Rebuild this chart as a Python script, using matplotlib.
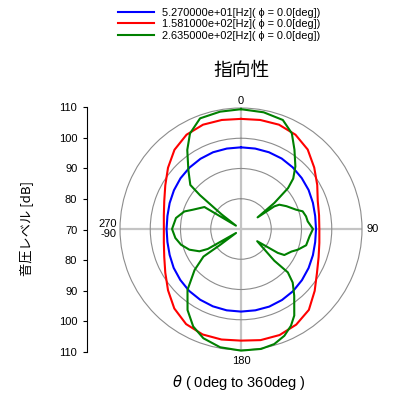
import numpy as np
import matplotlib
matplotlib.use("Agg")
import matplotlib.pyplot as plt

plt.rcParams["font.family"] = ["Liberation Sans", "Noto Sans CJK JP", "DejaVu Sans"]
plt.rcParams["mathtext.fontset"] = "dejavusans"

# directivity data (angle in deg, level in dB)
labels = ["5.270000e+01[Hz]( \u03d5 = 0.0[deg])",
          "1.581000e+02[Hz]( \u03d5 = 0.0[deg])",
          "2.635000e+02[Hz]( \u03d5 = 0.0[deg])"]
colors = ["#0000ff", "#ff0000", "#008000"]

ang_10 = list(range(0, 370, 10))
lvl_52 = [97.0, 97.0, 97.0, 96.9, 96.6, 96.2, 95.8, 95.3, 94.9, 94.8,
          94.9, 95.3, 95.8, 96.3, 96.8, 97.1, 97.3, 97.3, 97.3, 97.3,
          97.2, 97.0, 96.7, 96.2, 95.7, 95.1, 94.7, 94.6, 94.7, 95.1,
          95.6, 96.1, 96.5, 96.8, 97.0, 97.0, 97.0]
lvl_158 = [106.4, 106.6, 106.7, 106.0, 104.3, 101.6, 99.1, 97.0, 96.2, 95.9,
           96.3, 97.3, 99.0, 101.8, 104.9, 106.5, 107.3, 107.3, 106.9, 107.1,
           107.1, 106.3, 104.3, 101.5, 98.9, 97.0, 95.9, 95.5, 95.9, 97.0,
           98.9, 101.5, 104.2, 106.0, 106.7, 106.6, 106.4]

ang_264 = [0, 11, 21, 28, 34, 41, 46, 49, 52, 55,
           55.8, 57.6, 63.3, 70.7, 74, 79, 83.5, 90, 96, 104,
           110, 114, 121, 123, 127, 133.6, 132.8, 136, 141.4, 148.4,
           152.7, 157.9, 163.9, 170.5, 180, 190, 199, 206.1, 213.4, 221.3,
           228.5, 233.7, 232.7, 231.3, 239, 241.8, 248.2, 255.3, 262.2, 270,
           279.6, 287.2, 291.7, 301, 303.4, 307, 309.5, 311, 318.2, 325.8,
           331.9, 339.7, 349.9, 360]
lvl_264 = [109.6, 109.3, 108.6, 105.8, 101.6, 97.4, 94.0, 90.6, 84.0, 76.7,
           83.3, 85.0, 86.8, 89.3, 91.2, 91.9, 92.2, 93.8, 92.8, 92.2,
           90.0, 88.3, 86.7, 84.5, 76.7, 85.2, 91.1, 94.6, 98.2, 103.6,
           106.0, 108.1, 109.6, 110.2, 110.2, 109.7, 108.2, 105.9, 102.1, 96.8,
           90.5, 85.4, 78.7, 72.1, 82.8, 85.6, 88.4, 90.5, 91.9, 92.8,
           91.8, 89.6, 87.2, 84.1, 72.0, 78.0, 87.6, 92.2, 96.1, 101.6,
           105.8, 109.0, 109.4, 109.6]

series = [(ang_10, lvl_52), (ang_10, lvl_158), (ang_264, lvl_264)]

fig = plt.figure(figsize=(3.95, 4.0), dpi=100)

# polar plot
ax = fig.add_axes([120/395, 50/400, 242/395, 242/400], projection="polar")
ax.set_theta_zero_location("N")
ax.set_theta_direction(-1)
handles = []
for (a, v), c in zip(series, colors):
    ln, = ax.plot(np.deg2rad(a), v, color=c, lw=1.5, clip_on=False, zorder=3)
    handles.append(ln)
ax.set_ylim(70, 110)
ax.set_rgrids([80, 90, 100], labels=[])
ax.set_thetagrids([0, 90, 180, 270], labels=[])
ax.yaxis.grid(True, color="#8c8c8c", lw=0.8)
ax.xaxis.grid(True, color="#c4c4c4", lw=1.6)
ax.spines["polar"].set_color("#8c8c8c")
ax.spines["polar"].set_linewidth(0.8)

ax.annotate("0", (0, 110), xytext=(0, 1.5), textcoords="offset points",
            ha="center", va="bottom", fontsize=8)
ax.annotate("180", (np.pi, 110), xytext=(0, -4), textcoords="offset points",
            ha="center", va="top", fontsize=8)
ax.annotate("90", (np.pi/2, 110), xytext=(3.5, 0), textcoords="offset points",
            ha="left", va="center", fontsize=8)
ax.annotate("270\n-90", (3*np.pi/2, 110), xytext=(-2.5, 0), textcoords="offset points",
            ha="right", va="center", fontsize=8, linespacing=0.95)

# left level scale
ax2 = fig.add_axes([87/395, 48/400, 0.01, 245/400])
ax2.set_ylim(-40, 40)
ticks = [40, 30, 20, 10, 0, -10, -20, -30, -40]
tick_lbl = ["110", "100", "90", "80", "70", "80", "90", "100", "110"]
ax2.set_yticks(ticks)
ax2.set_yticklabels(tick_lbl)
ax2.set_xticks([])
for s in ["top", "right", "bottom"]:
    ax2.spines[s].set_visible(False)
ax2.patch.set_visible(False)
ax2.tick_params(axis="y", direction="out", length=3, pad=4, labelsize=8)

fig.text(26/395, 1 - 229/400, "音圧レベル [dB]", rotation=90, ha="center", va="center",
         fontsize=9.5, family=["Noto Sans CJK JP", "DejaVu Sans"])
fig.text(241/395, 1 - 70/400, "指向性", ha="center", va="center", fontsize=13.5,
         family=["Noto Sans CJK JP", "DejaVu Sans"])
fig.text(239/395, 1 - 383/400, r"$\theta$ ( 0deg to 360deg )", ha="center", va="center",
         fontsize=10.5)

fig.legend(handles, labels, loc="upper left", bbox_to_anchor=(118/395, 1 - 8/400),
           frameon=False, fontsize=7.9, handlelength=3.3, handletextpad=0.7,
           labelspacing=0.12, borderpad=0, borderaxespad=0)

fig.savefig("out.png", dpi=100)
